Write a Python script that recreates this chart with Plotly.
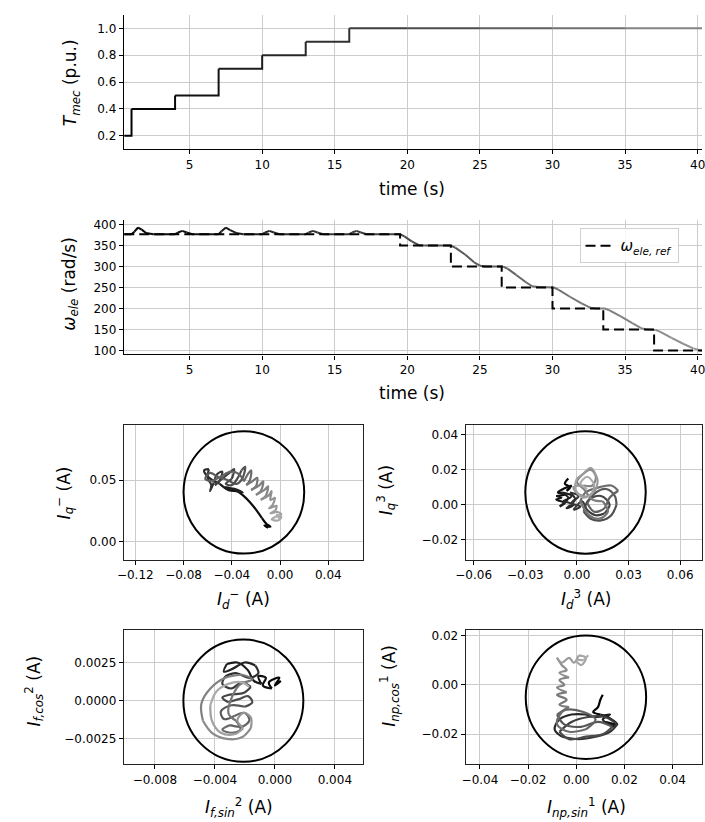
import plotly.graph_objects as go

# ---------------- data ----------------
# mechanical torque (p.u.) - step breakpoints
tmec_t = [0.5, 1.0, 4.0, 7.0, 10.0, 13.0, 16.0, 20.0, 25.0, 30.0, 35.0, 40.3]
tmec_v = [0.2, 0.4, 0.5, 0.7, 0.8, 0.9, 1.0, 1.0, 1.0, 1.0, 1.0, 1.0]

# electrical speed (rad/s)
w_t = [0.5, 1.0, 1.2, 1.45, 1.7, 2.0, 2.5, 4.0, 4.2, 4.5, 4.8, 5.2, 7.0, 7.2, 7.5, 7.8, 8.2, 8.7,
       10.0, 10.2, 10.5, 10.8, 11.2, 13.0, 13.2, 13.5, 13.8, 14.2, 16.0, 16.2, 16.5, 16.8, 17.2,
       19.5, 19.8, 20.3, 20.8, 21.2, 23.0, 23.3, 24.0, 24.6, 25.0, 25.4, 26.6, 26.9, 27.5, 28.2,
       28.6, 29.0, 30.1, 30.4, 31.2, 32.0, 32.6, 33.0, 33.6, 33.9, 34.7, 35.5, 36.1, 36.5, 37.1,
       37.4, 38.2, 39.0, 39.7, 40.3]
w_v = [377, 377, 383, 393, 388, 380, 377, 377, 381, 385, 381, 377, 377, 384, 393, 387, 380, 377,
       377, 381, 385, 381, 377, 377, 381, 385, 381, 377, 377, 381, 385, 381, 377,
       377, 372, 360, 351, 350, 350, 345, 328, 310, 302, 300, 300, 295, 280, 262,
       253, 251, 250, 245, 228, 212, 202, 200, 200, 196, 181, 165, 153, 150, 149,
       145, 130, 116, 105, 99]

# speed reference
wref_t = [0.5, 19.5, 23.0, 26.5, 30.0, 33.5, 37.0, 40.3]
wref_v = [377, 350, 300, 250, 200, 150, 100, 100]

# negative-sequence current trajectory (I_d^-, I_q^-), time ordered
neg_pts = [(-0.010, 0.011), (-0.013, 0.013), (-0.008, 0.012), (-0.011, 0.014), (-0.015, 0.019),
           (-0.020, 0.026), (-0.025, 0.032), (-0.030, 0.037), (-0.034, 0.040), (-0.040, 0.043),
           (-0.046, 0.044), (-0.043, 0.042), (-0.036, 0.041), (-0.031, 0.040), (-0.038, 0.043),
           (-0.044, 0.043),
           (-0.050, 0.047), (-0.056, 0.050), (-0.061, 0.054), (-0.063, 0.058), (-0.059, 0.059),
           (-0.060, 0.052), (-0.057, 0.046), (-0.058, 0.041), (-0.055, 0.048), (-0.052, 0.055),
           (-0.048, 0.057), (-0.050, 0.050), (-0.054, 0.046), (-0.047, 0.052), (-0.042, 0.056),
           (-0.038, 0.059), (-0.040, 0.051), (-0.045, 0.047), (-0.040, 0.046), (-0.035, 0.052),
           (-0.032, 0.058), (-0.029, 0.061), (-0.031, 0.052), (-0.036, 0.047), (-0.043, 0.050),
           (-0.052, 0.053), (-0.058, 0.056), (-0.062, 0.051), (-0.057, 0.049), (-0.049, 0.053),
           (-0.041, 0.057), (-0.034, 0.055), (-0.030, 0.049), (-0.026, 0.056), (-0.024, 0.058),
           (-0.025, 0.050),
           (-0.028, 0.046), (-0.023, 0.049), (-0.019, 0.052), (-0.020, 0.045), (-0.024, 0.042),
           (-0.017, 0.046), (-0.014, 0.049), (-0.016, 0.041), (-0.020, 0.038), (-0.013, 0.042),
           (-0.010, 0.045), (-0.012, 0.037), (-0.016, 0.034), (-0.009, 0.038), (-0.007, 0.041),
           (-0.008, 0.034), (-0.004, 0.036), (-0.006, 0.030), (-0.009, 0.027), (-0.003, 0.029),
           (-0.004, 0.025), (-0.008, 0.023), (-0.002, 0.024), (0.001, 0.022), (-0.004, 0.020),
           (-0.007, 0.018), (-0.002, 0.017), (0.001, 0.020), (-0.003, 0.022), (0.000, 0.018)]

# third-harmonic current trajectory (I_d^3, I_q^3)
h3_pts = [(-0.005, 0.015), (-0.007, 0.012), (-0.004, 0.010), (-0.006, 0.008), (-0.003, 0.011),
          (-0.008, 0.009), (-0.011, 0.007), (-0.006, 0.006), (-0.012, 0.005), (-0.009, 0.004),
          (-0.012, 0.003), (-0.007, 0.001), (-0.010, -0.001), (-0.005, 0.004), (-0.009, 0.007),
          (-0.003, 0.005), (-0.008, 0.002), (-0.002, 0.000), (-0.006, -0.002), (-0.001, 0.003),
          (-0.004, 0.007), (0.001, 0.005), (-0.003, 0.001), (0.002, -0.001), (-0.002, -0.003),
          (0.003, 0.002),
          (0.006, -0.003), (0.011, -0.006), (0.016, -0.005), (0.019, 0.000), (0.014, 0.005),
          (0.007, 0.003), (0.004, -0.004), (0.008, -0.008), (0.014, -0.009), (0.020, -0.006),
          (0.023, 0.000), (0.022, 0.005), (0.017, 0.009), (0.011, 0.007), (0.006, 0.001),
          (0.010, -0.004), (0.016, -0.002), (0.019, 0.004), (0.024, 0.008), (0.020, 0.011),
          (0.013, 0.010), (0.005, 0.007), (0.002, 0.002), (0.007, -0.006), (0.013, -0.008),
          (0.018, -0.004), (0.015, 0.002), (0.009, 0.003),
          (0.004, 0.009), (0.000, 0.013), (0.003, 0.017), (0.008, 0.020), (0.011, 0.016),
          (0.009, 0.011), (0.004, 0.011), (-0.002, 0.010), (0.001, 0.006), (0.007, 0.005),
          (0.011, 0.009), (0.012, 0.014), (0.008, 0.021), (0.004, 0.018), (0.000, 0.015),
          (-0.001, 0.009), (0.004, 0.004), (0.009, 0.007), (0.010, 0.012), (0.006, 0.016),
          (0.002, 0.012), (0.006, 0.009)]

# field-winding current trajectory (I_f,sin^2, I_f,cos^2)
f_pts = [(0.0004, 0.0013), (0.0000, 0.0010), (0.0003, 0.0015), (-0.0004, 0.0012), (-0.0002, 0.0008),
         (-0.0008, 0.0010), (-0.0006, 0.0015), (-0.0011, 0.0016), (-0.0009, 0.0011), (-0.0014, 0.0013),
         (-0.0018, 0.0020), (-0.0025, 0.0025), (-0.0032, 0.0024), (-0.0034, 0.0019), (-0.0028, 0.0021),
         (-0.0020, 0.0025), (-0.0013, 0.0023), (-0.0011, 0.0018), (-0.0017, 0.0015), (-0.0026, 0.0018),
         (-0.0033, 0.0016), (-0.0035, 0.0011), (-0.0029, 0.0008), (-0.0022, 0.0012), (-0.0016, 0.0009),
         (-0.0021, 0.0005), (-0.0030, 0.0004), (-0.0035, 0.0002), (-0.0031, -0.0001), (-0.0024, 0.0001),
         (-0.0018, 0.0003), (-0.0015, -0.0001),
         (-0.0020, -0.0004), (-0.0029, -0.0003), (-0.0036, -0.0007), (-0.0034, -0.0012),
         (-0.0027, -0.0010), (-0.0020, -0.0008), (-0.0017, -0.0013), (-0.0022, -0.0017),
         (-0.0030, -0.0016), (-0.0035, -0.0019), (-0.0029, -0.0021), (-0.0023, -0.0019),
         (-0.0026, -0.0013), (-0.0031, -0.0008),
         (-0.0024, 0.0010), (-0.0015, 0.0014), (-0.0022, 0.0017), (-0.0033, 0.0015), (-0.0043, 0.0008),
         (-0.0049, -0.0002), (-0.0048, -0.0013), (-0.0042, -0.0021), (-0.0032, -0.0025),
         (-0.0022, -0.0024), (-0.0016, -0.0018), (-0.0016, -0.0011), (-0.0021, -0.0008),
         (-0.0025, -0.0013), (-0.0021, -0.0018), (-0.0027, -0.0022), (-0.0036, -0.0021),
         (-0.0042, -0.0013), (-0.0043, -0.0003), (-0.0039, 0.0006), (-0.0031, 0.0011),
         (-0.0022, 0.0012), (-0.0017, 0.0009)]

# non-periodic current trajectory (I_np,sin^1, I_np,cos^1)
np_pts = [(0.011, -0.004), (0.010, -0.006), (0.009, -0.009), (0.007, -0.011), (0.010, -0.012),
          (0.013, -0.013), (0.017, -0.016), (0.012, -0.015), (0.016, -0.017), (0.011, -0.014),
          (0.014, -0.012), (0.008, -0.013),
          (0.004, -0.012), (-0.002, -0.012), (-0.007, -0.014), (-0.009, -0.018), (-0.006, -0.021),
          (0.001, -0.022), (0.008, -0.021), (0.014, -0.019), (0.017, -0.016), (0.012, -0.013),
          (0.005, -0.013), (-0.002, -0.015), (-0.007, -0.019), (-0.003, -0.022), (0.004, -0.021),
          (0.011, -0.020), (0.015, -0.017), (0.009, -0.015), (0.002, -0.017), (-0.005, -0.016),
          (-0.008, -0.012), (-0.004, -0.010), (0.003, -0.011), (0.008, -0.014), (0.004, -0.018),
          (-0.003, -0.019), (-0.008, -0.016), (-0.006, -0.011),
          (-0.003, -0.009), (-0.007, -0.008), (-0.004, -0.006), (-0.008, -0.004), (-0.004, -0.003),
          (-0.008, -0.001), (-0.005, 0.000), (-0.007, 0.002), (-0.003, 0.003), (-0.007, 0.005),
          (-0.004, 0.006), (-0.006, 0.008),
          (-0.008, 0.011), (-0.006, 0.009), (-0.003, 0.011), (-0.001, 0.009), (0.001, 0.012),
          (0.004, 0.011), (0.002, 0.008), (0.000, 0.010), (0.003, 0.010), (0.005, 0.012)]

# limit circles: centre x, centre y, radius
circ_neg = [-0.030, 0.040, 0.050]
circ_3 = [0.005, 0.007, 0.035]
circ_f = [-0.0021, 0.0000, 0.0040]
circ_np = [0.004, -0.005, 0.025]

# tick values / labels
t_ticks = [5, 10, 15, 20, 25, 30, 35, 40]
tmec_ticks = [0.2, 0.4, 0.6, 0.8, 1.0]
tmec_ticklab = ["0.2", "0.4", "0.6", "0.8", "1.0"]
w_ticks = [100, 150, 200, 250, 300, 350, 400]
neg_xt = [-0.12, -0.08, -0.04, 0.0, 0.04]
neg_xl = ["\u22120.12", "\u22120.08", "\u22120.04", "0.00", "0.04"]
neg_yt = [0.0, 0.05]
neg_yl = ["0.00", "0.05"]
h3_xt = [-0.06, -0.03, 0.0, 0.03, 0.06]
h3_xl = ["\u22120.06", "\u22120.03", "0.00", "0.03", "0.06"]
h3_yt = [-0.02, 0.0, 0.02, 0.04]
h3_yl = ["\u22120.02", "0.00", "0.02", "0.04"]
f_xt = [-0.008, -0.004, 0.0, 0.004]
f_xl = ["\u22120.008", "\u22120.004", "0.000", "0.004"]
f_yt = [-0.0025, 0.0, 0.0025]
f_yl = ["\u22120.0025", "0.0000", "0.0025"]
np_xt = [-0.04, -0.02, 0.0, 0.02, 0.04]
np_xl = ["\u22120.04", "\u22120.02", "0.00", "0.02", "0.04"]
np_yt = [-0.02, 0.0, 0.02]
np_yl = ["\u22120.02", "0.00", "0.02"]

FONT = "DejaVu Sans"
fig = go.Figure()


def gray(frac, maxg):
    g = int(round(maxg * frac))
    return f"rgb({g},{g},{g})"


def add_time_gradient(x, y, xa, ya, maxg, shape="linear", width=2):
    t0, t1 = x[0], x[-1]
    for i in range(len(x) - 1):
        frac = ((x[i] + x[i + 1]) / 2 - t0) / (t1 - t0)
        fig.add_trace(go.Scatter(x=[x[i], x[i + 1]], y=[y[i], y[i + 1]], mode="lines",
                                 line=dict(color=gray(frac, maxg), width=width, shape=shape),
                                 xaxis=xa, yaxis=ya, showlegend=False, hoverinfo="skip"))


def add_phase_gradient(pts, xa, ya, maxg=175, chunk=4):
    x = [p[0] for p in pts]
    y = [p[1] for p in pts]
    n = len(x)
    i = 0
    while i < n - 1:
        j = min(i + chunk, n - 1)
        frac = ((i + j) / 2) / (n - 1)
        fig.add_trace(go.Scatter(x=x[i:j + 1], y=y[i:j + 1], mode="lines",
                                 line=dict(color=gray(frac, maxg), width=2.2, shape="spline",
                                           smoothing=1.0),
                                 xaxis=xa, yaxis=ya, showlegend=False, hoverinfo="skip"))
        i = j


# top: torque
add_time_gradient(tmec_t, tmec_v, "x", "y", 140, shape="hv")
# speed
add_time_gradient(w_t, w_v, "x2", "y2", 150)
fig.add_trace(go.Scatter(x=wref_t, y=wref_v, mode="lines",
                         line=dict(color="black", width=2, dash="10px,5px", shape="hv"),
                         xaxis="x2", yaxis="y2", name="<i>ω</i><sub><i>ele, ref</i></sub>",
                         showlegend=True, hoverinfo="skip"))

add_phase_gradient(neg_pts, "x3", "y3")
add_phase_gradient(h3_pts, "x4", "y4")
add_phase_gradient(f_pts, "x5", "y5")
add_phase_gradient(np_pts, "x6", "y6")

shapes = []
for c, (xr, yr) in zip([circ_neg, circ_3, circ_f, circ_np],
                       [("x3", "y3"), ("x4", "y4"), ("x5", "y5"), ("x6", "y6")]):
    shapes.append(dict(type="circle", xref=xr, yref=yr, x0=c[0] - c[2], x1=c[0] + c[2],
                       y0=c[1] - c[2], y1=c[1] + c[2], line=dict(color="black", width=2),
                       layer="above"))


def ax(domain, rng, tickvals, ticktext=None, anchor=None, box=False):
    d = dict(domain=domain, range=rng, tickmode="array", tickvals=tickvals,
             showline=True, linecolor="#222" if box else "black", linewidth=1.2,
             mirror=box, ticks="outside", ticklen=4, tickwidth=1, tickcolor="black",
             showgrid=True, gridcolor="#cccccc", gridwidth=1, zeroline=False,
             ticklabeloverflow="allow",
             tickfont=dict(family=FONT, size=12, color="black"), anchor=anchor)
    if ticktext is not None:
        d["ticktext"] = ticktext
    return d


X1 = [0.1645, 1.0]
XL = [0.1645, 0.5106]
XR = [0.6586, 1.0]

fig.update_layout(
    width=705, height=822, margin=dict(l=0, r=0, t=0, b=0),
    paper_bgcolor="white", plot_bgcolor="white",
    font=dict(family=FONT, color="black"),
    xaxis=ax(X1, [0.47, 40.3], t_ticks, anchor="y"),
    yaxis=ax([0.8208, 0.9854], [0.1, 1.1], tmec_ticks, tmec_ticklab, anchor="x"),
    xaxis2=ax(X1, [0.47, 40.3], t_ticks, anchor="y2"),
    yaxis2=ax([0.5693, 0.7336], [90.5, 410], w_ticks, anchor="x2"),
    xaxis3=ax(XL, [-0.1295, 0.069], neg_xt, neg_xl, anchor="y3", box=True),
    yaxis3=ax([0.3179, 0.4830], [-0.0149, 0.0952], neg_yt, neg_yl, anchor="x3", box=True),
    xaxis4=ax(XR, [-0.0646, 0.0727], h3_xt, h3_xl, anchor="y4", box=True),
    yaxis4=ax([0.3179, 0.4830], [-0.0314, 0.0457], h3_yt, h3_yl, anchor="x4", box=True),
    xaxis5=ax(XL, [-0.01007, 0.0059], f_xt, f_xl, anchor="y5", box=True),
    yaxis5=ax([0.0673, 0.2311], [-0.00415, 0.0046], f_yt, f_yl, anchor="x5", box=True),
    xaxis6=ax(XR, [-0.0459, 0.0522], np_xt, np_xl, anchor="y6", box=True),
    yaxis6=ax([0.0673, 0.2311], [-0.0321, 0.0221], np_yt, np_yl, anchor="x6", box=True),
    shapes=shapes,
    showlegend=True,
    legend=dict(x=0.823, y=0.7238, xanchor="left", yanchor="top",
                bordercolor="#d0d0d0", borderwidth=1, bgcolor="rgba(255,255,255,0.85)",
                font=dict(family=FONT, size=15, color="black")),
)

TS = 17
annots = [
    ("<i>T</i><sub><i>mec</i></sub> (p.u.)", 63, 80, -90),
    ("<i>ω</i><sub><i>ele</i></sub> (rad/s)", 62, 283, -90),
    ("time (s)", 410, 187, 0),
    ("time (s)", 410, 393, 0),
    ("<i>I</i><sub><i>q</i></sub><sup>−</sup> (A)", 55, 493, -90),
    ("<i>I</i><sub><i>q</i></sub><sup>3</sup> (A)", 383, 491, -90),
    ("<i>I</i><sub><i>f,cos</i></sub><sup>2</sup> (A)", 25, 693, -90),
    ("<i>I</i><sub><i>np,cos</i></sub><sup>1</sup> (A)", 387, 688, -90),
    ("<i>I</i><sub><i>d</i></sub><sup>−</sup> (A)", 238, 601, 0),
    ("<i>I</i><sub><i>d</i></sub><sup>3</sup> (A)", 587, 601, 0),
    ("<i>I</i><sub><i>f,sin</i></sub><sup>2</sup> (A)", 233, 810, 0),
    ("<i>I</i><sub><i>np,sin</i></sub><sup>1</sup> (A)", 587, 810, 0),
]
for text, px, py, ang in annots:
    fig.add_annotation(text=text, x=px / 705, y=1 - py / 822, xref="paper", yref="paper",
                       showarrow=False, textangle=ang, xanchor="center", yanchor="middle",
                       font=dict(family=FONT, size=TS, color="black"))

fig.write_html("out.html")
